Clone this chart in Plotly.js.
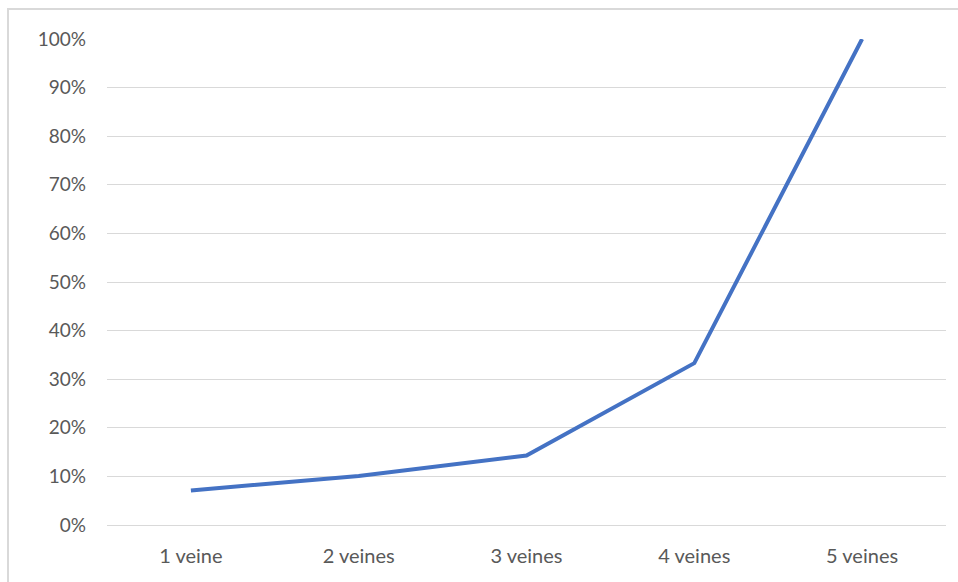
<!DOCTYPE html>
<html>
<head>
<meta charset="utf-8">
<script src="https://cdn.plot.ly/plotly-3.0.1.min.js"></script>
<style>
html,body{margin:0;padding:0;background:#fff;}
#frame{position:absolute;left:7px;top:8px;width:951px;height:574px;border-left:2px solid #d9d9d9;border-top:2px solid #d9d9d9;box-sizing:border-box;pointer-events:none;z-index:2;}
#chart{position:absolute;left:0;top:0;width:958px;height:582px;}
</style>
</head>
<body>
<div id="chart"></div>
<div id="frame"></div>
<script>
var categories = ["1 veine", "2 veines", "3 veines", "4 veines", "5 veines"];
var values = [0.071, 0.101, 0.143, 0.333, 1.0];

var trace = {
  x: categories,
  y: values,
  type: "scatter",
  mode: "lines",
  line: {color: "#4472C4", width: 4},
  cliponaxis: false,
  hoverinfo: "skip"
};

var layout = {
  width: 958,
  height: 582,
  margin: {l: 107, r: 12, t: 39, b: 57},
  paper_bgcolor: "#ffffff",
  plot_bgcolor: "#ffffff",
  showlegend: false,
  font: {family: "Lato, 'Open Sans', sans-serif", size: 19, color: "#595959"},
  xaxis: {
    type: "category",
    range: [-0.5, 4.5],
    showgrid: false,
    zeroline: false,
    showline: false,
    ticks: "",
    ticklabelstandoff: 17,
    tickfont: {family: "Lato, 'Open Sans', sans-serif", size: 20, color: "#595959"}
  },
  yaxis: {
    range: [0, 1],
    dtick: 0.1,
    tick0: 0,
    tickformat: ".0%",
    showgrid: true,
    gridcolor: "#d9d9d9",
    gridwidth: 1,
    zeroline: true,
    zerolinecolor: "#d9d9d9",
    zerolinewidth: 1,
    showline: false,
    ticks: "",
    ticklabelstandoff: 20,
    tickfont: {family: "Lato, 'Open Sans', sans-serif", size: 19, color: "#595959"}
  }
};

Plotly.newPlot("chart", [trace], layout, {staticPlot: true, displayModeBar: false});
</script>
</body>
</html>
